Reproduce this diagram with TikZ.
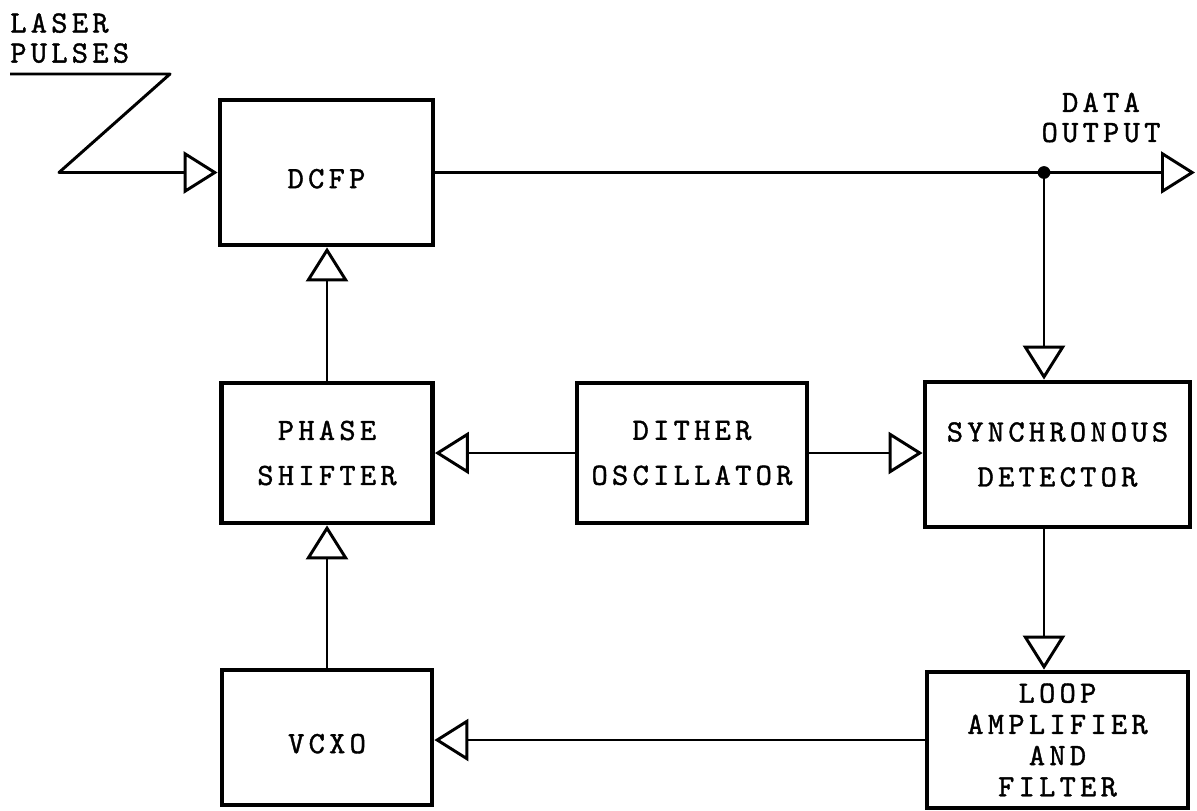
\documentclass[tikz,border=0pt]{standalone}
\usepackage{fontspec}
\newfontfamily\tw{lmmono10-regular.otf}[LetterSpace=13.8, FakeBold=1.2]
\usetikzlibrary{arrows.meta}
\begin{document}
\begin{tikzpicture}[x=0.025cm, y=-0.025cm,
  txt/.style={font=\tw\fontsize{22pt}{#1}\selectfont},
  txt/.default=1.125cm,
  box/.style={draw, line width=3.4pt, inner sep=0pt, align=center, txt,
    execute at begin node={\rule{0pt}{0.79cm}}},
  lbl/.style={inner sep=0pt, txt=0.75cm},
  conn/.style={line width=2.1pt, line join=round,
    -{Triangle[open, length=0.85cm, width=1.05cm]}},
]
\useasboundingbox (0,0) rectangle (1197,810);

% boxes
\node[box, minimum width=5.325cm, minimum height=3.625cm] (dcfp) at (326.5,172.5) {DCFP};
\node[box, minimum width=5.275cm, minimum height=3.5cm] (ps) at (327,453) {PHASE\\SHIFTER};
\node[box, minimum width=5.25cm, minimum height=3.375cm] (vcxo) at (327,737.5) {VCXO};
\node[box, minimum width=5.75cm, minimum height=3.5cm] (dith) at (692,453) {DITHER\\OSCILLATOR};
\node[box, minimum width=6.625cm, minimum height=3.625cm] (sd) at (1057.5,454.5) {SYNCHRONOUS\\DETECTOR};
\node[box, txt=0.78cm, minimum width=6.525cm, minimum height=3.4cm] (la) at (1057.5,740) {LOOP\\AMPLIFIER\\AND\\FILTER};

% labels
\node[lbl, anchor=north west, align=left] (laser) at (10,13) {LASER\\PULSES};
\node[lbl, align=center] (data) at (1101,117.5) {DATA\\OUTPUT};

% coordinates
\coordinate (z1) at (10,74);
\coordinate (z2) at (170,74);
\coordinate (z3) at (59,172.5);
\coordinate (out) at (1195,172.5);
\node[circle, fill, inner sep=0pt, minimum size=0.32cm] (dot) at (1044,172.5) {};

% connectors
\draw[conn] (z1) -- (z2) -- (z3) -- (dcfp.west);
\draw[conn] (dcfp.east) -- (out);
\draw[conn] (dot.center) -- (dot.center |- sd.north);
\draw[conn] (ps.north) -- (ps.north |- dcfp.south);
\draw[conn] (vcxo.north) -- (vcxo.north |- ps.south);
\draw[conn] (dith.west) -- (ps.east |- dith.west);
\draw[conn] (dith.east) -- (sd.west |- dith.east);
\draw[conn] (dot.center |- sd.south) -- (dot.center |- la.north);
\draw[conn] (la.west) -- (vcxo.east |- la.west);
\end{tikzpicture}
\end{document}
